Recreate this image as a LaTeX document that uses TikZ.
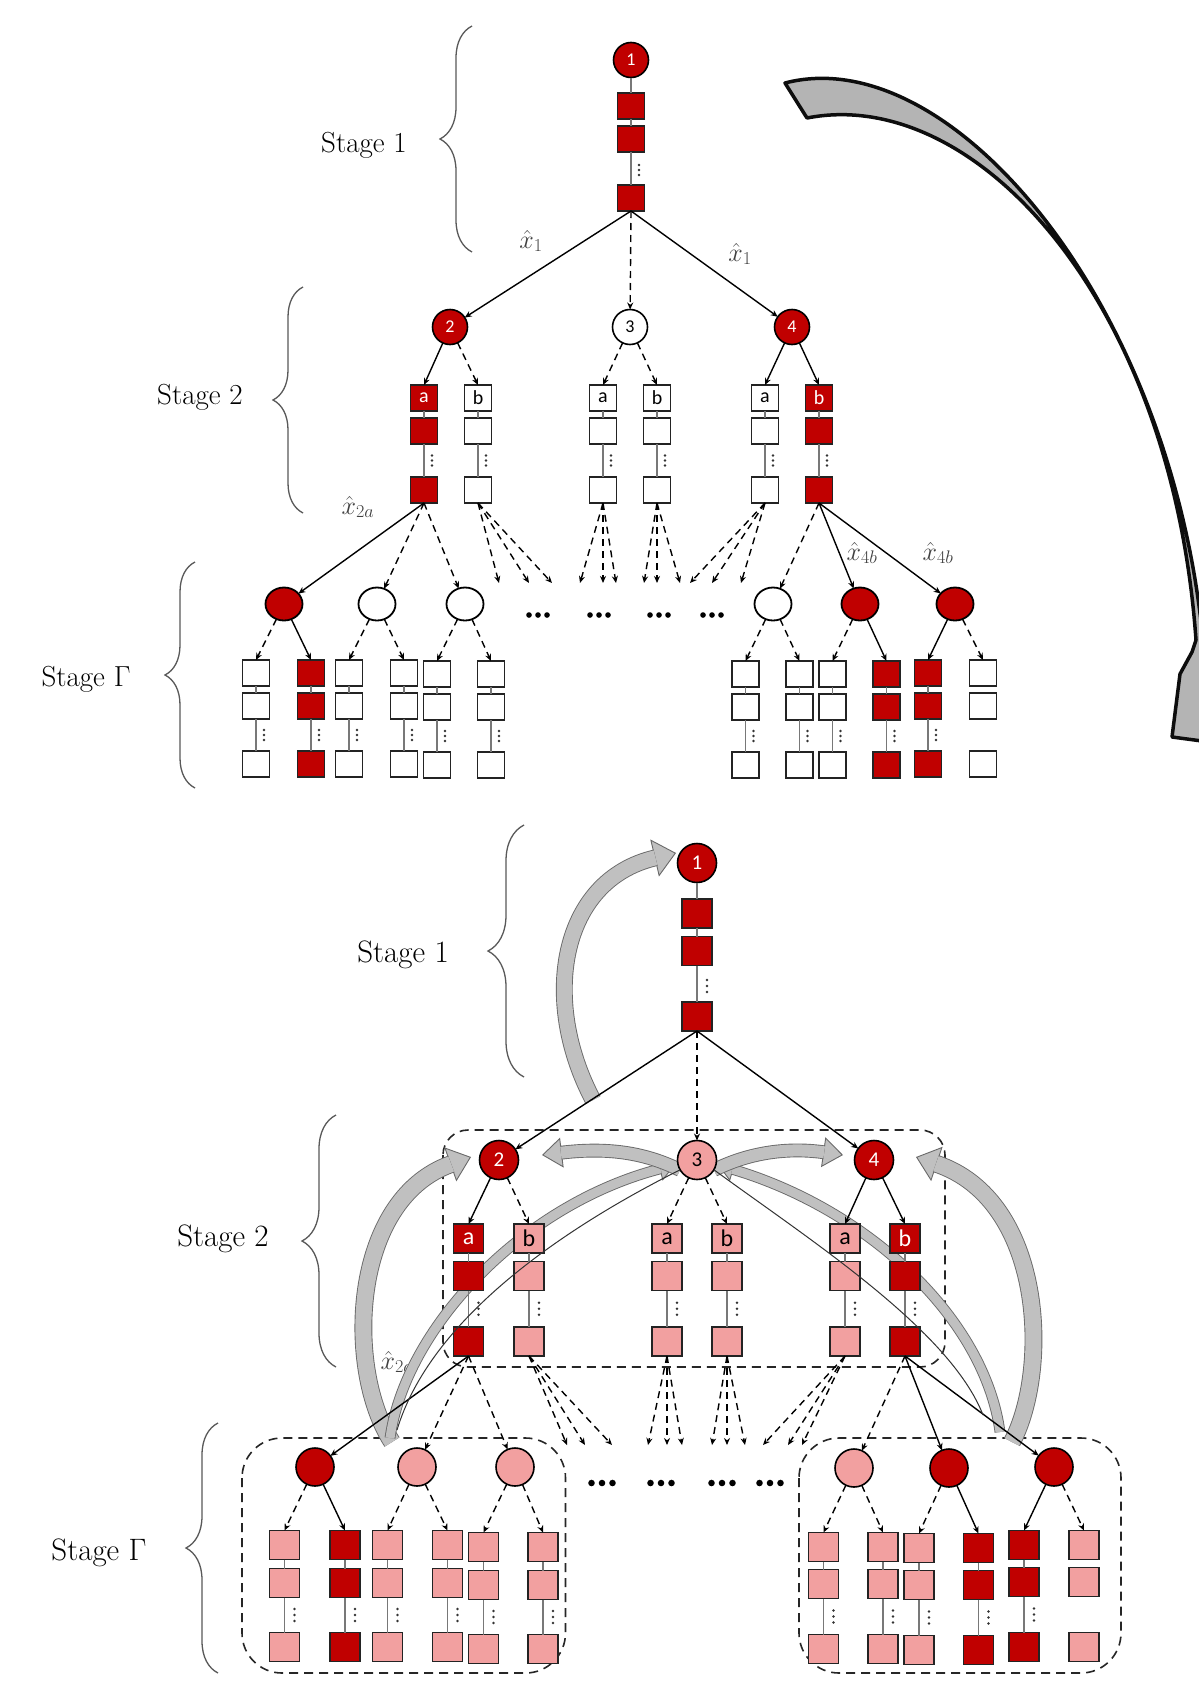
\RequirePackage{fix-cm}
\documentclass[tikz,border=0pt]{standalone}
\usepackage{fontspec}
\newfontfamily\lab{Carlito}
\usetikzlibrary{arrows.meta,shapes.geometric,decorations.pathreplacing,calc}
\definecolor{dred}{RGB}{192,0,0}
\definecolor{pinkc}{RGB}{242,160,160}
\definecolor{gfill}{RGB}{192,192,192}
\definecolor{gout}{RGB}{105,105,105}
\definecolor{gbig}{RGB}{180,180,180}
\definecolor{bord}{RGB}{35,35,35}
\definecolor{chaincol}{RGB}{120,120,120}
\tikzset{
 every node/.style={inner sep=0pt,outer sep=0pt},
 sqT/.style={draw=bord,line width=1.8pt,minimum width=27pt,minimum height=26pt,text=black,font=\lab\fontsize{20}{20}\selectfont},
 sqB/.style={sqT,minimum width=30pt,minimum height=29pt,font=\lab\fontsize{24}{24}\selectfont},
 rd/.style={fill=dred,text=white},
 wh/.style={fill=white},
 pk/.style={fill=pinkc},
 ndT/.style={circle,draw=black,line width=1.6pt,minimum size=35pt,font=\lab\fontsize{18}{18}\selectfont},
 ndB/.style={ndT,minimum size=39pt,font=\lab\fontsize{21}{21}\selectfont},
 gT/.style={ellipse,draw=black,line width=1.8pt,minimum width=37pt,minimum height=33pt},
 gB/.style={circle,draw=black,line width=1.6pt,minimum size=38pt},
 arS/.style={line width=1.4pt,-{Stealth[length=7pt,width=6pt]}},
 arD/.style={arS,dash pattern=on 7pt off 5pt},
 chn/.style={draw=chaincol,line width=1.2pt},
 brc/.style={decorate,decoration={brace,amplitude=#1},draw=black!65,line width=1.3pt},
 stg/.style={font=\fontsize{29}{34}\selectfont},
 stgB/.style={font=\fontsize{31}{36}\selectfont},
 lbl/.style={text=black!75,font=\fontsize{26}{30}\selectfont},
 dbox/.style={draw=black!85,line width=1.6pt,dash pattern=on 9pt off 6pt,rounded corners=#1},
 gline/.style={draw=gout,line width=0.9pt},
}
\def\dsp{5}
\newcommand{\vdd}[2]{\fill[black!80] ({#1},{#2-\dsp}) circle (1.4pt) ({#1},{#2}) circle (1.4pt) ({#1},{#2+\dsp}) circle (1.4pt);}
\newcommand{\mkcol}[9]{%
  \node[#6,#7] (#1-1) at (#2,#3) {#8};
  \node[#6,#7] (#1-2) at (#2,#4) {};
  \node[#6,#7] (#1-3) at (#2,#5) {};
  \draw[chn] (#1-1) -- (#1-2) (#1-2) -- (#1-3);
  \vdd{#2+#9}{(#4+#5)/2}}
\newcommand{\mkcolN}[7]{%
  \node[#6,#7] (#1-1) at (#2,#3) {};
  \node[#6,#7] (#1-2) at (#2,#4) {};
  \node[#6,#7] (#1-3) at (#2,#5) {};}
\newcommand{\garr}[5]{%
  \draw[gline,-{Triangle[length=#3,width=#4,fill=gfill]}] #1;
  \draw[gline,double=gfill,double distance=#2,shorten >=#5] #1;}
\newcommand{\threedots}[3]{\fill ({#1-#3},#2) circle (#3/3.2) (#1,#2) circle (#3/3.2) ({#1+#3},#2) circle (#3/3.2);}

\begin{document}
\begin{tikzpicture}[x=1pt,y=-1pt]
\useasboundingbox (0,0) rectangle (1199,1681);
\clip (0,0) rectangle (1199,1681);
\fill[white] (0,0) rectangle (1199,1681);

% ================= TOP DIAGRAM =================
\draw[brc=32pt] (472,252) -- (472,26);
\node[stg] (s1t) at (364,145) {Stage 1};
\draw[brc=30pt] (303,513) -- (303,287);
\node[stg] (s2t) at (200,397) {Stage 2};
\draw[brc=30pt] (195,788) -- (195,562);
\node[stg] (sgt) at (86,679) {Stage Γ};

% big grey arrow
\filldraw[fill=gbig,draw=black!95,line width=3.5pt,line join=round]
  (785,83) .. controls (950,40) and (1170,300) .. (1203,640)
  -- (1240,660) -- (1232,745) -- (1172,737) -- (1180,674) -- (1192,652) -- (1196,640)
  .. controls (1172,300) and (975,85) .. (807,118)
  -- cycle;

% stage 1
\node[ndT,rd] (N1t) at (631,60) {1};
\node[sqT,rd] (S1t-1) at (631,106) {};
\node[sqT,rd] (S1t-2) at (631,139) {};
\node[sqT,rd] (S1t-3) at (631,198) {};
\draw[chn] (N1t) -- (S1t-1) (S1t-1) -- (S1t-2) (S1t-2) -- (S1t-3);
\vdd{639}{170}

\node[ndT,rd] (N2t) at (450,327) {2};
\node[ndT,wh] (N3t) at (630,327) {3};
\node[ndT,rd] (N4t) at (792,327) {4};
\draw[arS] (S1t-3.south) -- (N2t);
\draw[arD] (S1t-3.south) -- (N3t);
\draw[arS] (S1t-3.south) -- (N4t);
\node[lbl] (x1a) at (531,241) {$\hat{x}_1$};
\node[lbl] (x1b) at (740,254) {$\hat{x}_1$};

% stage 2
\mkcol{A2a}{424}{398}{431}{490}{sqT}{rd}{a}{8}
\mkcol{A2b}{478}{398}{431}{490}{sqT}{wh}{b}{8}
\mkcol{A3a}{603}{398}{431}{490}{sqT}{wh}{a}{8}
\mkcol{A3b}{657}{398}{431}{490}{sqT}{wh}{b}{8}
\mkcol{A4a}{765}{398}{431}{490}{sqT}{wh}{a}{8}
\mkcol{A4b}{819}{398}{431}{490}{sqT}{rd}{b}{8}
\draw[arS] (N2t) -- (A2a-1.north); \draw[arD] (N2t) -- (A2b-1.north);
\draw[arD] (N3t) -- (A3a-1.north); \draw[arD] (N3t) -- (A3b-1.north);
\draw[arS] (N4t) -- (A4a-1.north); \draw[arS] (N4t) -- (A4b-1.north);

\foreach \s/\t in {A2b/499,A2b/529,A2b/552,A3a/580,A3a/603,A3a/616,A3b/644,A3b/657,A3b/680,A4a/690,A4a/712,A4a/741}{
  \coordinate (ft-\s-\t) at (\t,583);
  \draw[arD] (\s-3.south) -- (ft-\s-\t);
}
\foreach \x in {538,599,659,712}{\threedots{\x}{615}{9}}

% stage Gamma
\node[gT,rd] (G1t) at (284,604) {};
\node[gT,wh] (G2t) at (377,604) {};
\node[gT,wh] (G3t) at (465,604) {};
\node[gT,wh] (G4t) at (773,604) {};
\node[gT,rd] (G5t) at (860,604) {};
\node[gT,rd] (G6t) at (955,604) {};
\draw[arS] (A2a-3.south) -- (G1t);
\draw[arD] (A2a-3.south) -- (G2t);
\draw[arD] (A2a-3.south) -- (G3t);
\draw[arD] (A4b-3.south) -- (G4t);
\draw[arS] (A4b-3.south) -- (G5t);
\draw[arS] (A4b-3.south) -- (G6t);
\node[lbl] (x2a) at (358,507) {$\hat{x}_{2a}$};
\node[lbl] (x4b1) at (862,553) {$\hat{x}_{4b}$};
\node[lbl] (x4b2) at (938,553) {$\hat{x}_{4b}$};

\mkcol{T1}{256}{673}{706}{764}{sqT}{wh}{}{8}
\mkcol{T2}{311}{673}{706}{764}{sqT}{rd}{}{8}
\mkcol{T3}{349}{673}{706}{764}{sqT}{wh}{}{8}
\mkcol{T4}{404}{673}{706}{764}{sqT}{wh}{}{8}
\mkcol{T5}{437}{674}{707}{765}{sqT}{wh}{}{8}
\mkcol{T6}{491}{674}{707}{765}{sqT}{wh}{}{8}
\mkcol{T7}{745.5}{674}{707}{765}{sqT}{wh}{}{8}
\mkcol{T8}{799.5}{674}{707}{765}{sqT}{wh}{}{8}
\mkcol{T9}{832.5}{674}{707}{765}{sqT}{wh}{}{8}
\mkcol{T10}{886.5}{674}{707}{765}{sqT}{rd}{}{8}
\mkcol{T11}{928}{673}{706}{764}{sqT}{rd}{}{8}
\mkcolN{T12}{983}{673}{706}{764}{sqT}{wh}
\draw[arD] (G1t) -- (T1-1.north); \draw[arS] (G1t) -- (T2-1.north);
\draw[arD] (G2t) -- (T3-1.north); \draw[arD] (G2t) -- (T4-1.north);
\draw[arD] (G3t) -- (T5-1.north); \draw[arD] (G3t) -- (T6-1.north);
\draw[arD] (G4t) -- (T7-1.north); \draw[arD] (G4t) -- (T8-1.north);
\draw[arD] (G5t) -- (T9-1.north); \draw[arS] (G5t) -- (T10-1.north);
\draw[arS] (G6t) -- (T11-1.north); \draw[arD] (G6t) -- (T12-1.north);

% ================= BOTTOM DIAGRAM =================
\def\dsp{6}
\draw[brc=36pt] (524,1077) -- (524,825);
\node[stgB] (s1b) at (403,955) {Stage 1};
\draw[brc=34pt] (336,1367) -- (336,1115);
\node[stgB] (s2b) at (223,1239) {Stage 2};
\draw[brc=32pt] (218,1673) -- (218,1423);
\node[stgB] (sgb) at (99,1553) {Stage Γ};

\node[lbl] (x2ab) at (397,1362) {$\hat{x}_{2a}$};

\draw[dbox=25pt] (443,1130) rectangle (945,1367);
\draw[dbox=40pt] (242,1438) rectangle (565.5,1673);
\draw[dbox=40pt] (799,1438) rectangle (1121,1673);

% grey curved arrows
\garr{(593,1100) .. controls (540,1000) and (560,880) .. (676,853)}{15pt}{22pt}{38pt}{21pt}
\garr{(392,1442) .. controls (345,1370) and (350,1200) .. (471,1157)}{16pt}{22pt}{36pt}{21pt}
\garr{(1012,1442) .. controls (1050,1370) and (1045,1200) .. (916,1157)}{16pt}{22pt}{36pt}{21pt}
\garr{(390,1438) .. controls (405,1330) and (520,1205) .. (675,1165)}{9pt}{16pt}{24pt}{15pt}
\garr{(1000,1432) .. controls (985,1320) and (870,1210) .. (718,1165)}{9pt}{16pt}{24pt}{15pt}
\garr{(680,1170) .. controls (640,1150) and (600,1148) .. (542,1155)}{12pt}{20pt}{30pt}{19pt}
\garr{(714,1170) .. controls (754,1150) and (794,1148) .. (843,1155)}{12pt}{20pt}{30pt}{19pt}

% stage 1
\node[ndB,rd] (N1b) at (697,863) {1};
\node[sqB,rd] (S1b-1) at (697,913.5) {};
\node[sqB,rd] (S1b-2) at (697,951) {};
\node[sqB,rd] (S1b-3) at (697,1016.5) {};
\draw[chn] (N1b) -- (S1b-1) (S1b-1) -- (S1b-2) (S1b-2) -- (S1b-3);
\vdd{707}{986}

\node[ndB,rd] (N2b) at (499,1160) {2};
\node[ndB,pk] (N3b) at (697,1160) {3};
\node[ndB,rd] (N4b) at (874,1160) {4};
\draw[arS] (S1b-3.south) -- (N2b);
\draw[arD] (S1b-3.south) -- (N3b);
\draw[arS] (S1b-3.south) -- (N4b);

\mkcol{B2a}{468.5}{1238.5}{1276}{1341.5}{sqB}{rd}{a}{10}
\mkcol{B2b}{529}{1238.5}{1276}{1341.5}{sqB}{pk}{b}{10}
\mkcol{B3a}{667}{1238.5}{1276}{1341.5}{sqB}{pk}{a}{10}
\mkcol{B3b}{727}{1238.5}{1276}{1341.5}{sqB}{pk}{b}{10}
\mkcol{B4a}{845}{1238.5}{1276}{1341.5}{sqB}{pk}{a}{10}
\mkcol{B4b}{905}{1238.5}{1276}{1341.5}{sqB}{rd}{b}{10}
\draw[arS] (N2b) -- (B2a-1.north); \draw[arD] (N2b) -- (B2b-1.north);
\draw[arD] (N3b) -- (B3a-1.north); \draw[arD] (N3b) -- (B3b-1.north);
\draw[arS] (N4b) -- (B4a-1.north); \draw[arS] (N4b) -- (B4b-1.north);

\foreach \s/\t in {B2b/567,B2b/585,B2b/612,B3a/648,B3a/667,B3a/682,B3b/712,B3b/727,B3b/745,B4a/763,B4a/788,B4a/802}{
  \coordinate (fb-\s-\t) at (\t,1445);
  \draw[arD] (\s-3.south) -- (fb-\s-\t);
}
\foreach \x in {602,661,722,770}{\threedots{\x}{1483}{10.5}}

\node[gB,rd] (H1) at (315,1467) {};
\node[gB,pk] (H2) at (417,1467) {};
\node[gB,pk] (H3) at (515,1467) {};
\node[gB,pk] (H4) at (854,1468) {};
\node[gB,rd] (H5) at (949,1468) {};
\node[gB,rd] (H6) at (1054,1467) {};
\draw[arS] (B2a-3.south) -- (H1);
\draw[arD] (B2a-3.south) -- (H2);
\draw[arD] (B2a-3.south) -- (H3);
\draw[arD] (B4b-3.south) -- (H4);
\draw[arS] (B4b-3.south) -- (H5);
\draw[arS] (B4b-3.south) -- (H6);

\mkcol{U1}{284.5}{1545}{1583}{1647}{sqB}{pk}{}{10}
\mkcol{U2}{345}{1545}{1583}{1647}{sqB}{rd}{}{10}
\mkcol{U3}{387.5}{1545}{1583}{1647}{sqB}{pk}{}{10}
\mkcol{U4}{447.5}{1545}{1583}{1647}{sqB}{pk}{}{10}
\mkcol{U5}{483.5}{1547}{1585}{1649}{sqB}{pk}{}{10}
\mkcol{U6}{543}{1547}{1585}{1649}{sqB}{pk}{}{10}
\mkcol{U7}{823.5}{1547}{1584}{1649}{sqB}{pk}{}{10}
\mkcol{U8}{883}{1547}{1584}{1649}{sqB}{pk}{}{10}
\mkcol{U9}{919}{1548}{1585}{1650}{sqB}{pk}{}{10}
\mkcol{U10}{978.5}{1548}{1585}{1650}{sqB}{rd}{}{10}
\mkcol{U11}{1024}{1545}{1582}{1647}{sqB}{rd}{}{10}
\mkcolN{U12}{1084}{1545}{1582}{1647}{sqB}{pk}
\draw[arD] (H1) -- (U1-1.north); \draw[arS] (H1) -- (U2-1.north);
\draw[arD] (H2) -- (U3-1.north); \draw[arD] (H2) -- (U4-1.north);
\draw[arD] (H3) -- (U5-1.north); \draw[arD] (H3) -- (U6-1.north);
\draw[arD] (H4) -- (U7-1.north); \draw[arD] (H4) -- (U8-1.north);
\draw[arD] (H5) -- (U9-1.north); \draw[arS] (H5) -- (U10-1.north);
\draw[arS] (H6) -- (U11-1.north); \draw[arD] (H6) -- (U12-1.north);

% thin curves from node 3
\draw[line width=1pt,black!80] (N3b.-150) .. controls (560,1230) and (430,1320) .. (397,1430);
\draw[line width=1pt,black!80] (N3b.-30) .. controls (810,1240) and (950,1330) .. (983,1415);
\end{tikzpicture}
\end{document}
